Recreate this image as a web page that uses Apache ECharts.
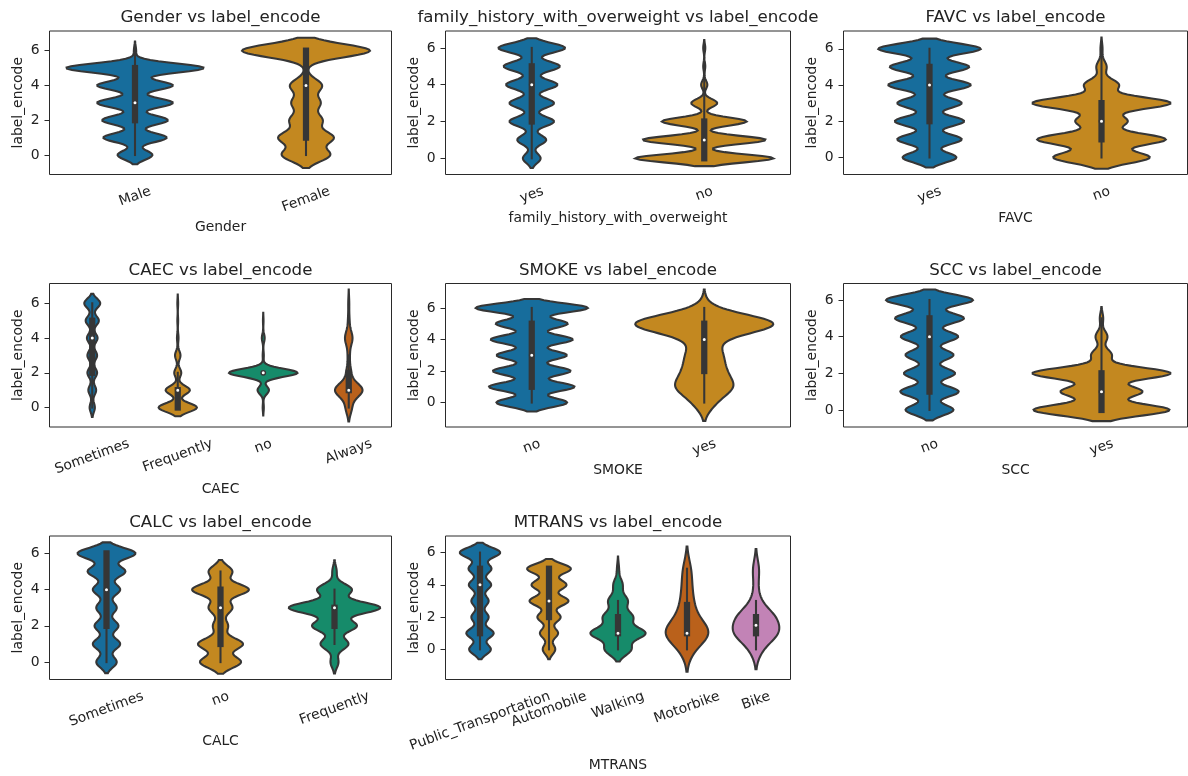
<!DOCTYPE html>
<html>
<head>
<meta charset="utf-8">
<script src="https://cdn.jsdelivr.net/npm/echarts@6/dist/echarts.min.js"></script>
<style>
  html, body { margin: 0; padding: 0; background: #ffffff; }
  #chart { width: 1188px; height: 776px; }
</style>
</head>
<body>
<div id="chart"></div>
<script>
// ---------------------------------------------------------------------------
// Data: counts of each label_encode class (0..6) for every category,
// inner box summary [whiskerLow, q1, median, q3, whiskerHigh] and y ranges.
// ---------------------------------------------------------------------------
const Y_TICKS = [0, 2, 4, 6];

const VARIABLES = ['Gender', 'family_history_with_overweight', 'FAVC', 'CAEC',
                   'SMOKE', 'SCC', 'CALC', 'MTRANS'];

const CAT_GENDER = ['Male', 'Female'];
const CNT_GENDER = [
  [790, 1435, 1487, 1716, 1716, 3120, 50],
  [1520, 1730, 1015, 900, 1015, 50, 4120]
];
const BOX_GENDER = [[0, 2, 3, 5, 6], [0, 1, 4, 6, 6]];

const CAT_FAMILY = ['yes', 'no'];
const CNT_FAMILY = [
  [970, 1580, 2430, 2430, 2800, 3060, 3640],
  [1330, 1185, 815, 250, 60, 20, 20]
];
const BOX_FAMILY = [[0, 2, 4, 5, 6], [0, 0, 1, 2, 5]];

const CAT_FAVC = ['yes', 'no'];
const CNT_FAVC = [
  [1980, 2370, 2550, 2370, 3040, 2920, 3780],
  [375, 500, 200, 540, 135, 40, 8]
];
const BOX_FAVC = [[0, 2, 4, 5, 6], [0, 1, 2, 3, 6]];

const CAT_CAEC = ['Sometimes', 'Frequently', 'no', 'Always'];
const CNT_CAEC = [
  [1295, 1925, 2400, 2400, 2625, 3255, 3940],
  [1210, 766, 222, 173, 49, 25, 25],
  [2, 20, 120, 2, 5, 1, 0],
  [84, 385, 63, 28, 105, 21, 14]
];
const BOX_CAEC = [[0, 2, 4, 5, 6], [0, 0, 1, 1, 2], [2, 2, 2, 2, 2], [0, 1, 1, 2, 3]];

const CAT_SMOKE = ['no', 'yes'];
const CNT_SMOKE = [
  [2540, 3075, 2790, 2520, 2950, 2580, 4040],
  [18, 51, 33, 30, 18, 144, 6]
];
const BOX_SMOKE = [[0, 1, 3, 5, 6], [0, 2, 4, 5, 6]];

const CAT_SCC = ['no', 'yes'];
const CNT_SCC = [
  [2300, 2800, 2450, 2300, 2750, 3300, 4170],
  [240, 143, 244, 36, 21, 6, 0]
];
const BOX_SCC = [[0, 1, 4, 5, 6], [0, 0, 1, 2, 5]];

const CAT_CALC = ['Sometimes', 'no', 'Frequently'];
const CNT_CALC = [
  [1425, 1905, 1665, 1425, 1905, 2625, 4050],
  [1040, 1140, 380, 600, 1440, 600, 0],
  [20, 70, 112, 230, 87, 11, 0]
];
const BOX_CALC = [[0, 2, 4, 6, 6], [0, 1, 3, 4, 5], [1, 2, 3, 3, 4]];

const CAT_MTRANS = ['Public_Transportation', 'Automobile', 'Walking', 'Motorbike', 'Bike'];
const CNT_MTRANS = [
  [2150, 2700, 1700, 1700, 2200, 2250, 4000],
  [258, 374, 477, 801, 717, 903, 0],
  [65, 136, 73, 48, 23, 5, 0],
  [4, 18, 6, 4, 3, 3, 0],
  [3, 13, 11, 2, 1, 2, 0]
];
const BOX_MTRANS = [[0, 1, 4, 5, 6], [0, 2, 3, 5, 5], [0, 1, 1, 2, 3], [0, 1, 1, 2.75, 5], [0, 1, 1.5, 2, 3]];

const Y_RANGE = [
  [-1.12, 7.13], [-0.88, 6.92], [-0.94, 6.98],
  [-1.12, 7.14], [-1.55, 7.55], [-0.93, 6.90],
  [-0.96, 6.96], [-1.87, 7.03]
];

// ---------------------------------------------------------------------------
// Styling and layout
// ---------------------------------------------------------------------------
const PALETTE = ['#176d9c', '#c38820', '#168b6a', '#ba611b', '#c283b6'];
const EDGE = '#363636';
const INK = '#222222';
const FRAME = '#2a2a2a';
const FONT = '"DejaVu Sans", "Liberation Sans", sans-serif';
const TICK_FS = 13.9;
const TITLE_FS = 16.67;
const LABEL_ROT = 20 * Math.PI / 180;

const COL_LEFT = [49.5, 445.5, 843.5];
const COL_WIDTH = [342, 345, 344];
const ROW_TOP = [31, 283.5, 536];
const ROW_HEIGHT = 143.5;

const PANELS = [
  { cats: CAT_GENDER, counts: CNT_GENDER, box: BOX_GENDER },
  { cats: CAT_FAMILY, counts: CNT_FAMILY, box: BOX_FAMILY },
  { cats: CAT_FAVC, counts: CNT_FAVC, box: BOX_FAVC },
  { cats: CAT_CAEC, counts: CNT_CAEC, box: BOX_CAEC },
  { cats: CAT_SMOKE, counts: CNT_SMOKE, box: BOX_SMOKE },
  { cats: CAT_SCC, counts: CNT_SCC, box: BOX_SCC },
  { cats: CAT_CALC, counts: CNT_CALC, box: BOX_CALC },
  { cats: CAT_MTRANS, counts: CNT_MTRANS, box: BOX_MTRANS }
];

// Gaussian KDE (Scott bandwidth, cut = 2, 100 grid points) of integer-valued counts
function kde(counts) {
  let n = 0, s = 0;
  counts.forEach((c, k) => { n += c; s += c * k; });
  const mean = s / n;
  let ss = 0;
  counts.forEach((c, k) => { ss += c * (k - mean) * (k - mean); });
  const sd = Math.sqrt(ss / (n - 1));
  const bw = sd * Math.pow(n, -0.2);
  const present = [];
  counts.forEach((c, k) => { if (c > 0) present.push(k); });
  const lo = Math.min.apply(null, present) - 2 * bw;
  const hi = Math.max.apply(null, present) + 2 * bw;
  const G = 100, grid = [], dens = [];
  const norm = 1 / (bw * Math.sqrt(2 * Math.PI));
  for (let g = 0; g < G; g++) {
    const y = lo + (hi - lo) * g / (G - 1);
    let d = 0;
    counts.forEach((c, k) => {
      if (c > 0) { const z = (y - k) / bw; d += (c / n) * Math.exp(-0.5 * z * z); }
    });
    grid.push(y);
    dens.push(d * norm);
  }
  return { grid, dens, max: Math.max.apply(null, dens) };
}

PANELS.forEach(p => {
  p.violins = p.counts.map(kde);
  p.dmax = Math.max.apply(null, p.violins.map(v => v.max)); // area scaling
});

function makeRenderer(panel) {
  return function (params, api) {
    const i = api.value(0);
    const v = panel.violins[i];
    const b = panel.box[i];
    const band = api.size([1, 0])[0];
    const k = 0.4 * band / panel.dmax;
    const right = [], left = [];
    for (let g = 0; g < v.grid.length; g++) {
      const c = api.coord([i, v.grid[g]]);
      const hw = v.dens[g] * k;
      right.push([c[0] + hw, c[1]]);
      left.push([c[0] - hw, c[1]]);
    }
    const pts = right.concat(left.reverse());
    const wLo = api.coord([i, b[0]]), q1 = api.coord([i, b[1]]);
    const med = api.coord([i, b[2]]), q3 = api.coord([i, b[3]]);
    const wHi = api.coord([i, b[4]]);
    const children = [
      { type: 'polygon', shape: { points: pts },
        style: { fill: PALETTE[i % PALETTE.length], stroke: EDGE, lineWidth: 2.08, lineJoin: 'miter' } },
      { type: 'line', shape: { x1: wLo[0], y1: wLo[1], x2: wHi[0], y2: wHi[1] },
        style: { stroke: EDGE, lineWidth: 2.08, lineCap: 'square' } }
    ];
    if (b[3] > b[1]) {
      children.push({ type: 'line', shape: { x1: q1[0], y1: q1[1], x2: q3[0], y2: q3[1] },
        style: { stroke: EDGE, lineWidth: 6.25, lineCap: 'square' } });
    }
    children.push({ type: 'circle', shape: { cx: med[0], cy: med[1], r: 2.2 },
      style: { fill: '#ffffff', stroke: EDGE, lineWidth: 1.4 } });
    return { type: 'group', children: children };
  };
}

const grids = [], xAxes = [], yAxes = [], series = [];
PANELS.forEach((p, pi) => {
  const row = Math.floor(pi / 3), col = pi % 3;
  grids.push({
    left: COL_LEFT[col], top: ROW_TOP[row], width: COL_WIDTH[col], height: ROW_HEIGHT,
    show: true, borderColor: FRAME, borderWidth: 1, backgroundColor: '#ffffff'
  });
  xAxes.push({
    type: 'category', gridIndex: pi, data: p.cats, boundaryGap: true,
    axisLine: { show: false },
    axisTick: { show: true, alignWithLabel: true, length: 5, lineStyle: { color: FRAME, width: 1 } },
    axisLabel: { show: false },
    splitLine: { show: false }
  });
  yAxes.push({
    type: 'value', gridIndex: pi, min: Y_RANGE[pi][0], max: Y_RANGE[pi][1],
    axisLine: { show: false },
    axisTick: { show: true, length: 5, customValues: Y_TICKS, lineStyle: { color: FRAME, width: 1 } },
    axisLabel: { show: true, customValues: Y_TICKS, margin: 10, fontSize: TICK_FS,
                 fontFamily: FONT, color: INK },
    splitLine: { show: false },
    name: 'label_encode', nameLocation: 'middle', nameGap: 24,
    nameTextStyle: { fontSize: TICK_FS, fontFamily: FONT, color: INK }
  });
  series.push({
    type: 'custom', xAxisIndex: pi, yAxisIndex: pi,
    data: p.cats.map((c, i) => [i, p.box[i][2]]),
    encode: { x: 0, y: 1 },
    renderItem: makeRenderer(p),
    silent: true, animation: false
  });
});

const chart = echarts.init(document.getElementById('chart'), null, { renderer: 'canvas' });
chart.setOption({
  backgroundColor: '#ffffff',
  animation: false,
  grid: grids, xAxis: xAxes, yAxis: yAxes, series: series
});

// Titles, rotated category labels and x-axis names
const measureCtx = document.createElement('canvas').getContext('2d');
measureCtx.font = TICK_FS + 'px ' + FONT;
const graphics = [];
PANELS.forEach((p, pi) => {
  const row = Math.floor(pi / 3), col = pi % 3;
  const left = COL_LEFT[col], top = ROW_TOP[row];
  const bottom = top + ROW_HEIGHT, cx = left + COL_WIDTH[col] / 2;
  graphics.push({
    type: 'text', x: cx, y: top - 13.25, silent: true,
    style: { text: VARIABLES[pi] + ' vs label_encode', fill: INK, font: TITLE_FS + 'px ' + FONT,
             textAlign: 'center', textVerticalAlign: 'middle', align: 'center', verticalAlign: 'middle' }
  });
  let maxH = 0;
  p.cats.forEach((c, i) => {
    const w = measureCtx.measureText(c).width;
    const H = w * Math.sin(LABEL_ROT) + TICK_FS * Math.cos(LABEL_ROT);
    maxH = Math.max(maxH, H);
    const px = chart.convertToPixel({ gridIndex: pi }, [i, 0]);
    graphics.push({
      type: 'text', x: px[0], y: bottom + 9.8 + H / 2, rotation: LABEL_ROT, silent: true,
      style: { text: c, fill: INK, font: TICK_FS + 'px ' + FONT,
               textAlign: 'center', textVerticalAlign: 'middle', align: 'center', verticalAlign: 'middle' }
    });
  });
  graphics.push({
    type: 'text', x: cx, y: bottom + 9.8 + maxH + 5.6, silent: true,
    style: { text: VARIABLES[pi], fill: INK, font: TICK_FS + 'px ' + FONT,
             textAlign: 'center', textVerticalAlign: 'top', align: 'center', verticalAlign: 'top' }
  });
});
chart.setOption({ graphic: { elements: graphics } });
</script>
</body>
</html>
